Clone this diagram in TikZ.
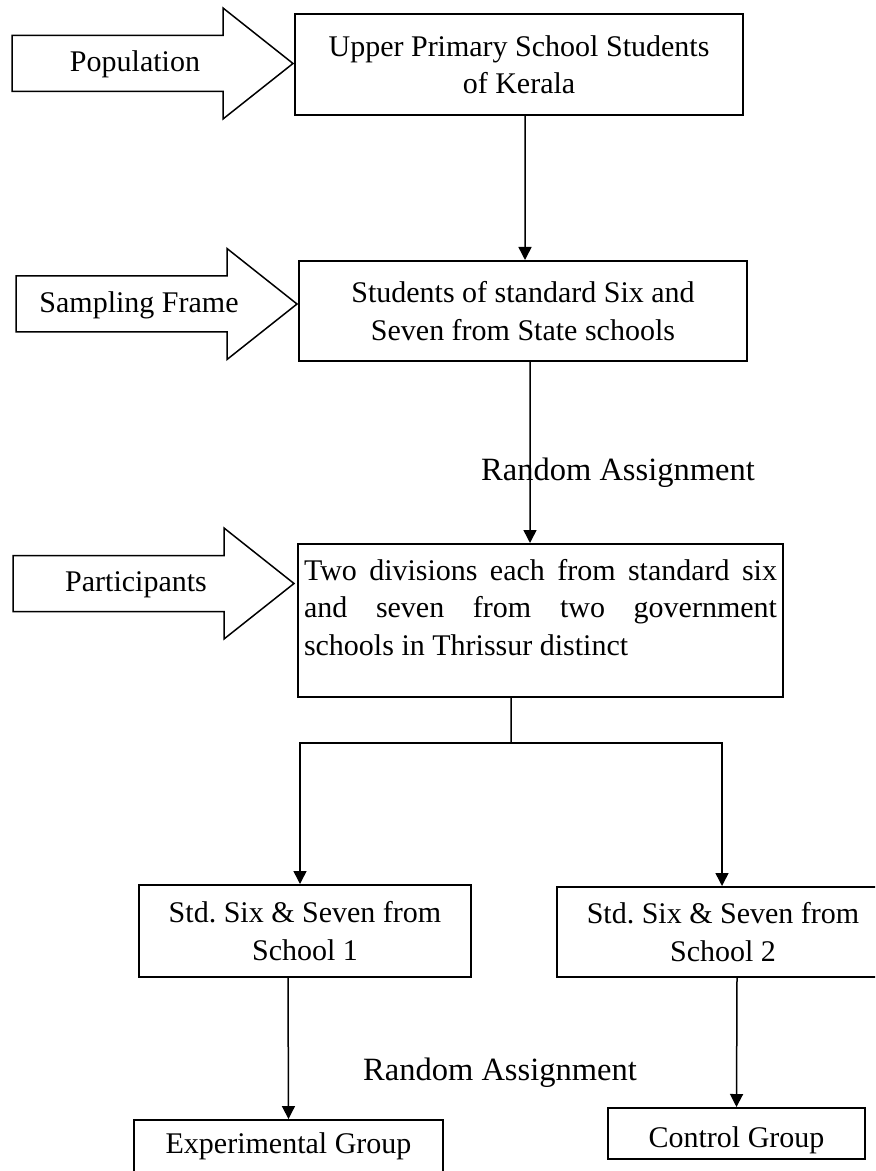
\documentclass[tikz,border=0pt]{standalone}
\usepackage{fontspec}
\setmainfont{Liberation Serif}
\usepackage{tikz}
\usetikzlibrary{calc,arrows.meta}

\begin{document}
\begin{tikzpicture}[x=0.4pt,y=-0.4pt,
    box/.style={draw, line width=0.8pt, align=center, inner sep=0pt,
        font=\fontsize{12}{15}\selectfont},
    flow/.style={line width=0.6pt, -{Triangle[length=5.2pt,width=5.2pt]}},
    blockarrow/.style={draw, line width=0.6pt, line join=miter},
    assign/.style={draw=none, color=black, font=\fontsize{13}{15}\selectfont}]
        % frame of the page
        \useasboundingbox (0,0) rectangle (875,1171);
        \clip (0,0) rectangle (875,1171);

        % block arrows on the left
        \foreach \lx/\cy/\txt/\nm in {12/63.5/Population/pop, 16/304/Sampling Frame/frm, 13/583.5/Participants/prt}{
            \draw[blockarrow] (\lx,\cy-28) -- ++(211,0) -- ++(0,-27.5) -- ++(70,55.5)
                -- ++(-70,55.5) -- ++(0,-27.5) -- ++(-211,0) -- cycle;
            \node[draw=none, color=black, font=\fontsize{12}{15}\selectfont] (\nm) at (\lx+123,\cy+1) {\txt};
        }

        % boxes
        \node[box, minimum width=179.2pt, minimum height=40.4pt] (upper) at (519,64.5)
            {Upper Primary School Students\\of Kerala};
        \node[box, minimum width=179.2pt, minimum height=40pt] (frame) at (523,311)
            {Students of standard Six and\\Seven from State schools};
        \node[box, minimum height=61.2pt, text width=189.2pt, inner xsep=2.4pt, align=justify] (part) at (540.5,620.5)
            {Two divisions each from standard six\linebreak and seven from two government\linebreak schools in Thrissur distinct\rule[-10.7pt]{0pt}{0pt}};
        \node[box, minimum width=132.8pt, minimum height=36.8pt] (school1) at (305,931)
            {Std.\ Six \& Seven from\\School 1};
        \node[box, minimum width=132.8pt, minimum height=36pt] (school2) at (723,932)
            {Std.\ Six \& Seven from\\School 2};
        \node[box, minimum width=123.6pt, minimum height=21.1pt] (exp) at (288.5,1146.4)
            {Experimental Group};
        \node[box, minimum width=102.8pt, text height=10.8pt, text depth=0pt, inner ysep=4.8pt] (control) at (736.5,1133.5)
            {Control Group};

        % Text
        \node[assign] (assign1) at (618,472.7) {Random Assignment};
        \node[assign] (assign2) at (500,1073) {Random Assignment};

        % connectors
        \coordinate (split) at (511,743);
        \draw[flow] ([xshift=2.4pt]upper.south) -- ([xshift=0.8pt]frame.north);
        \draw[flow] ([xshift=2.8pt]frame.south) -- ([xshift=-4.2pt]part.north);
        \draw[line width=0.6pt] ([xshift=-11.8pt]part.south) -- (split);
        \draw[flow] (split) -| ([xshift=-2pt]school1.north);
        \draw[flow] (split) -| ([xshift=-0.4pt]school2.north);
        \draw[flow] ([xshift=-6.8pt]school1.south) -- (exp.north);
        \draw[flow] ([xshift=5.6pt]school2.south) -- (control.north);
\end{tikzpicture}
\end{document}
